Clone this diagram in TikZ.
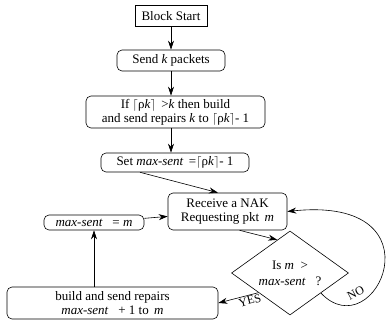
\documentclass[tikz,border=0pt]{standalone}
\usepackage{fontspec}
\setmainfont{Liberation Serif}
\usepackage{tikz}
\usetikzlibrary{arrows.meta,shapes.geometric}

\begin{document}
\begin{tikzpicture}[x=1pt,y=-1pt,>={Stealth[length=9pt,width=6pt]},line width=0.6pt,
  main node/.style={draw,rounded corners=5pt,align=center,inner sep=0pt,font=\fontsize{13}{14}\selectfont},
  start node/.style={main node,rounded corners=0pt,line width=1pt},
  test node/.style={diamond,draw,align=center,inner sep=0pt,shape aspect=1.4,
    minimum width=117pt,minimum height=84pt,font=\fontsize{13}{16}\selectfont},
  tag/.style={font=\fontsize{12}{12}\selectfont,inner sep=1pt}]
  \useasboundingbox (0,0) rectangle (391,320);

  \node[start node,minimum width=72pt,minimum height=21pt] (start) at (171,16) {Block Start};
  \node[main node,minimum width=108pt,minimum height=21pt] (send) at (171,60.5) {Send \textit{k} packets};
  \node[main node,minimum width=179pt,minimum height=32pt] (check) at (175.5,112)
    {If $\lceil$ρ\textit{k}$\rceil$ \,>\textit{k} then build\\and send repairs \textit{k} to $\lceil$ρ\textit{k}$\rceil$- 1};
  \node[main node,minimum width=148pt,minimum height=19pt] (setmax) at (175,162.5)
    {Set \textit{max-sent} \,=$\lceil$ρ\textit{k}$\rceil$- 1};
  \node[main node,minimum width=119pt,minimum height=37pt] (recv) at (227.5,211.5)
    {Receive a NAK\\Requesting pkt \,\textit{m}};
  \node[main node,minimum width=100pt,minimum height=15pt] (maxm) at (94,222.5)
    {\textit{max-sent} \ \ = \textit{m}};
  \node[test node] (test) at (290,273) {Is \textit{m} \ >\\\textit{max-sent} \ \ ?};
  \node[main node,minimum width=211pt,minimum height=32pt] (repair) at (112.5,303)
    {build and send repairs\\\textit{max-sent} \ \ + 1 to \,\textit{m}};

  \path[->]
    (start) edge (send)
    (send) edge (send.south |- check.north)
    (send.south |- check.south) edge (send.south |- setmax.north)
    ([xshift=-35pt]setmax.south) edge ([xshift=-9.5pt]recv.north)
    (maxm) edge (recv)
    ([xshift=12pt]recv.south) edge (test.111)
    (test.212) edge node[tag,pos=0.25,below,sloped] {YES} (repair.east)
    (repair.north -| maxm.south) edge (maxm.south);
  \draw[->] (test.-33) .. controls (375,350) and (445,195) .. (recv.east)
    node[tag,pos=0.25,above=5pt,sloped] {NO};
\end{tikzpicture}
\end{document}
